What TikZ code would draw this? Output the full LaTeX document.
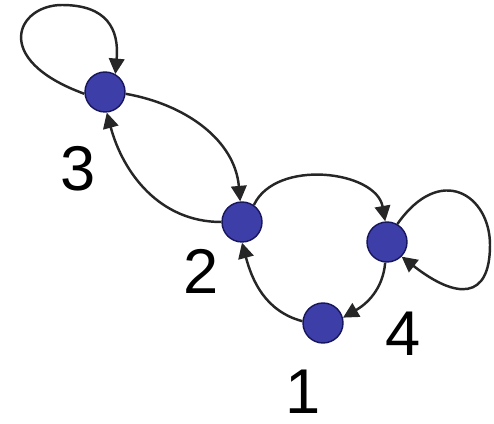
\documentclass[tikz,border=0pt]{standalone}
\usepackage{fontspec}
\setmainfont{Liberation Sans}
\usetikzlibrary{arrows.meta}

\definecolor{vertexblue}{RGB}{62,62,168}
\definecolor{vertexedge}{RGB}{22,22,92}

\begin{document}
\begin{tikzpicture}[
    x=0.02cm, y=0.02cm,
    vertex/.style={circle, draw=vertexedge, line width=0.8pt, fill=vertexblue, inner sep=0pt, minimum size=0.8cm},
    num/.style={font=\fontsize{36}{40}\selectfont, inner sep=0pt},
    arrow/.style={-{Triangle[length=3.1mm, width=3.1mm]}, line width=1.4pt, draw=black!85}
  ]
    \useasboundingbox (0,0) rectangle (494,423);

    \node[vertex] (v3) at (105,331) {};
    \node[vertex] (v2) at (242,201) {};
    \node[vertex] (v4) at (387,181) {};
    \node[vertex] (v1) at (323,100) {};

    \node[num] (l3) at (78,254) {3};
    \node[num] (l2) at (201,152) {2};
    \node[num] (l4) at (403,89) {4};
    \node[num] (l1) at (303,31) {1};

    % tops of the two self loops
    \coordinate (top3) at (62,418);
    \coordinate (right4) at (490,178);

    \draw[arrow] (v3.185) .. controls +(160:100) and +(180:45) .. (top3)
                 .. controls +(0:45) and +(85:45) .. (v3.60);
    \draw[arrow] (v3.-5) to[out=-10, in=95] (v2.95);
    \draw[arrow] (v2.180) to[out=180, in=-75] (v3.-85);
    \draw[arrow] (v2.55) to[out=65, in=100] (v4.95);
    \draw[arrow] (v1.175) to[out=165, in=-75] (v2.-90);
    \draw[arrow] (v4.-95) to[out=-95, in=30] (v1.15);
    \draw[arrow] (v4.60) .. controls +(55:75) and +(90:50) .. (right4)
                 .. controls +(-90:55) and +(-38:70) .. (v4.-45);
  \end{tikzpicture}
\end{document}
